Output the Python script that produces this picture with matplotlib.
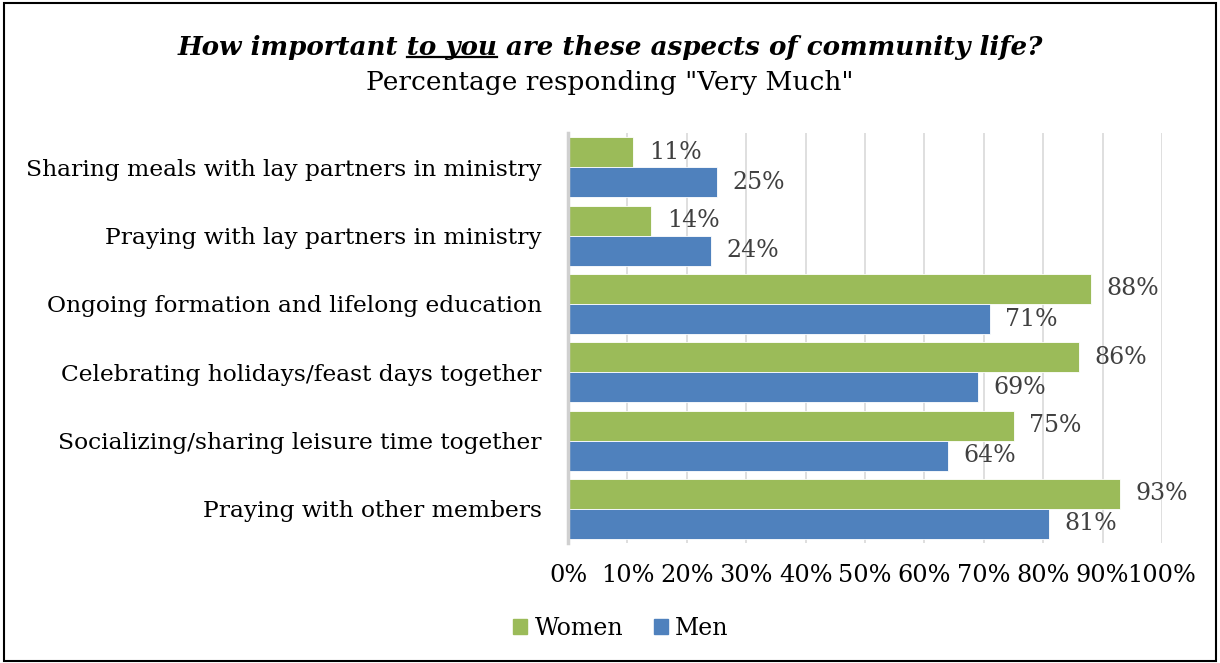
import matplotlib
matplotlib.use("Agg")
import matplotlib.pyplot as plt
from matplotlib.patches import Rectangle, Patch
from matplotlib.lines import Line2D
from matplotlib.ticker import FuncFormatter

categories = [
    "Praying with other members",
    "Socializing/sharing leisure time together",
    "Celebrating holidays/feast days together",
    "Ongoing formation and lifelong education",
    "Praying with lay partners in ministry",
    "Sharing meals with lay partners in ministry",
]
women = [93, 75, 86, 88, 14, 11]
men = [81, 64, 69, 71, 24, 25]
x_ticks = [0, 10, 20, 30, 40, 50, 60, 70, 80, 90, 100]

GREEN = "#9bbb59"
BLUE = "#4f81bd"
FONT = "DejaVu Serif"

fig = plt.figure(figsize=(12.2, 6.63), dpi=100)
ax = fig.add_axes([0.4656, 0.181, 0.4869, 0.618])

h = 0.44
ypos = list(range(len(categories)))
ax.barh([y + h / 2 for y in ypos], women, height=h, color=GREEN,
        edgecolor="white", linewidth=0.6, label="Women", zorder=3)
ax.barh([y - h / 2 for y in ypos], men, height=h, color=BLUE,
        edgecolor="white", linewidth=0.6, label="Men", zorder=3)

for y, w, m in zip(ypos, women, men):
    ax.text(w + 2.6, y + h / 2, f"{w}%", va="center", ha="left",
            fontsize=17, color="#404040", family=FONT)
    ax.text(m + 2.6, y - h / 2, f"{m}%", va="center", ha="left",
            fontsize=17, color="#404040", family=FONT)

ax.set_xlim(0, 100)
ax.set_ylim(-0.5, 5.5)
ax.set_xticks(x_ticks)
ax.xaxis.set_major_formatter(FuncFormatter(lambda v, p: f"{v:.0f}%"))
ax.set_yticks(ypos)
ax.set_yticklabels(categories)
ax.tick_params(axis="both", length=0)
ax.tick_params(axis="x", pad=15, labelsize=17.3)
ax.tick_params(axis="y", pad=19, labelsize=16.8)
for lbl in ax.get_xticklabels() + ax.get_yticklabels():
    lbl.set_family(FONT)
    lbl.set_color("black")

ax.grid(axis="x", color="#d9d9d9", linewidth=1.2, zorder=0)
for s in ["top", "right", "bottom"]:
    ax.spines[s].set_visible(False)
ax.spines["left"].set_color("#d0d0d0")
ax.spines["left"].set_linewidth(2.5)
ax.spines["left"].set_zorder(4)

# Title with "to you" underlined
title_kw = dict(fontsize=18.8, fontweight="bold", fontstyle="italic", family=FONT)
title = "How important to you are these aspects of community life?"
ty = 0.928
t = fig.text(0.5, ty, title, ha="center", va="center", **title_kw)
renderer = fig.canvas.get_renderer()
full = t.get_window_extent(renderer)
probe = fig.text(0, 0, "How important ", **title_kw)
w_pre = probe.get_window_extent(renderer).width
probe.set_text("to you")
w_mid = probe.get_window_extent(renderer).width
probe.remove()
fw, fh = fig.bbox.width, fig.bbox.height
x0 = (full.x0 + w_pre) / fw
x1 = (full.x0 + w_pre + w_mid) / fw
uy = (full.y0 + 3) / fh
fig.lines.append(Line2D([x0, x1], [uy, uy], transform=fig.transFigure,
                        color="black", linewidth=1.6))

fig.text(0.5, 0.875, 'Percentage responding "Very Much"', ha="center",
         va="center", fontsize=19, family=FONT)

handles = [Patch(color=GREEN), Patch(color=BLUE)]
fig.legend(handles, ["Women", "Men"], loc="center", bbox_to_anchor=(0.509, 0.052),
           ncol=2, frameon=False, prop={"family": FONT, "size": 17},
           handlelength=0.6, handleheight=0.6, handletextpad=0.3,
           columnspacing=1.3)

fig.patches.append(Rectangle((0.003, 0.003), 0.994, 0.992, transform=fig.transFigure,
                             fill=False, edgecolor="black", linewidth=1.5))

fig.savefig("out.png", dpi=100)
